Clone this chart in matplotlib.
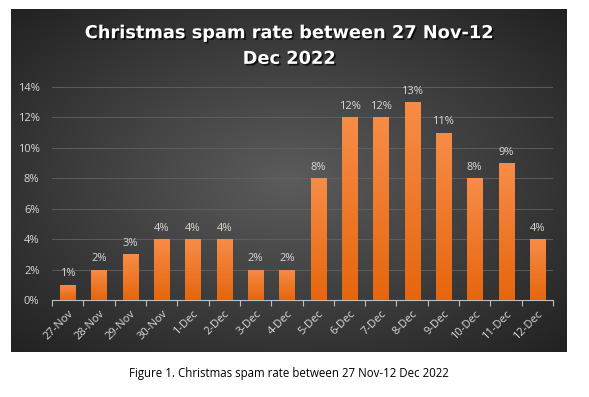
import numpy as np
import matplotlib.pyplot as plt
import matplotlib.patheffects as pe
from matplotlib.ticker import FuncFormatter

days = ["27-Nov", "28-Nov", "29-Nov", "30-Nov", "1-Dec", "2-Dec", "3-Dec", "4-Dec",
        "5-Dec", "6-Dec", "7-Dec", "8-Dec", "9-Dec", "10-Dec", "11-Dec", "12-Dec"]
spam_rate = [0.01, 0.02, 0.03, 0.04, 0.04, 0.04, 0.02, 0.02,
             0.08, 0.12, 0.12, 0.13, 0.11, 0.08, 0.09, 0.04]

plt.rcParams['font.family'] = ['Open Sans', 'DejaVu Sans']

fig = plt.figure(figsize=(5.89, 3.97), dpi=100)
fig.patch.set_facecolor("white")

# dark panel with radial gradient
W, H = 589, 397
panel = fig.add_axes([11 / W, 1 - 352 / H, 556 / W, 343 / H])
yy, xx = np.mgrid[-1:1:200j, -1:1:300j]
r = np.sqrt((xx * 0.9) ** 2 + (yy * 0.9) ** 2)
shade = np.clip(0.36 - 0.18 * r, 0.12, 0.4)
panel.imshow(np.dstack([shade, shade, shade]), aspect="auto", extent=[0, 1, 0, 1])
panel.set_xlim(0, 1)
panel.set_ylim(0, 1)
panel.axis("off")

ax = fig.add_axes([52 / W, 1 - 300 / H, 501 / W, 213 / H])
ax.patch.set_alpha(0)
x = np.arange(len(days))
bars = ax.bar(x, spam_rate, width=0.48, color="#ed7d31", zorder=2)

# orange vertical gradient on each bar
grad = np.linspace(0, 1, 100).reshape(-1, 1)
top = np.array([0.97, 0.55, 0.28])
bot = np.array([0.90, 0.40, 0.05])
cols = bot + (top - bot) * grad
cols = cols[:, None, :]
for b in bars:
    im = ax.imshow(cols, aspect="auto", origin="lower", zorder=3,
                   extent=[b.get_x(), b.get_x() + b.get_width(), 0, b.get_height()])
    im.set_clip_path(b)

for xi, v in zip(x, spam_rate):
    ax.text(xi, v + 0.0035, f"{v * 100:.0f}%", ha="center", va="bottom",
            color="#d9d9d9", fontsize=8, zorder=4)

ax.set_xlim(-0.5, len(days) - 0.5)
ax.set_ylim(0, 0.14)
ax.set_yticks(np.arange(0, 0.141, 0.02))
ax.yaxis.set_major_formatter(FuncFormatter(lambda v, p: f"{v * 100:.0f}%"))
ax.grid(axis="y", color="#626262", linewidth=0.6, zorder=0)
ax.tick_params(axis="y", length=0, colors="#d9d9d9", labelsize=8, pad=9)

ax.set_xticks(x)
ax.set_xticklabels(days, rotation=45, ha="right", rotation_mode="anchor",
                   color="#d9d9d9", fontsize=8)
ax.tick_params(axis="x", length=0, pad=6)
ax.set_xticks(np.arange(-0.5, len(days), 1), minor=True)
ax.tick_params(axis="x", which="minor", length=4, color="#bfbfbf", width=0.8)

for s in ["top", "right", "left"]:
    ax.spines[s].set_visible(False)
ax.spines["bottom"].set_color("#bfbfbf")
ax.spines["bottom"].set_linewidth(0.8)

shadow = [pe.SimplePatchShadow(offset=(1.2, -1.2), shadow_rgbFace="black", alpha=0.7), pe.Normal()]
fig.text(289 / W, 1 - 46 / H, "Christmas spam rate between 27 Nov-12\nDec 2022",
         ha="center", va="center", color="white", fontsize=12.8, fontweight="bold",
         family=["DejaVu Sans"], linespacing=1.55, path_effects=shadow)

fig.text(289 / W, 1 - 374 / H, "Figure 1. Christmas spam rate between 27 Nov-12 Dec 2022",
         ha="center", va="center", color="black", fontsize=8.3)

fig.savefig("out.png", dpi=100)
